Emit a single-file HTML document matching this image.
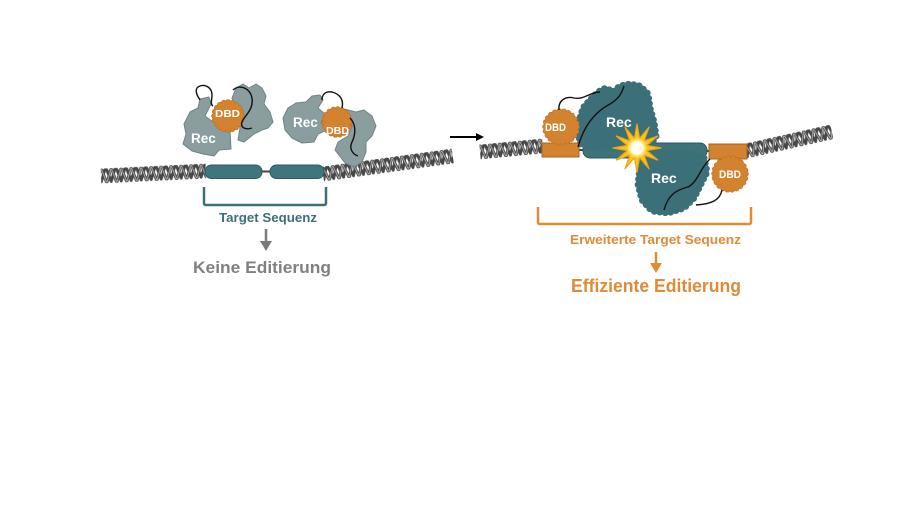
<!DOCTYPE html>
<html><head><meta charset="utf-8">
<style>
html,body{margin:0;padding:0;background:#fff;}
svg{display:block;}
text{font-family:"Liberation Sans",sans-serif;font-weight:bold;}
</style></head><body>
<svg width="900" height="506" viewBox="0 0 900 506" xmlns="http://www.w3.org/2000/svg">
<defs>
 <pattern id="hx" patternUnits="userSpaceOnUse" x="0" y="-8" width="10" height="16">
  <path d="M-2,14 L0,14 L4,2 L6,2 L10,14 L12,14" fill="none" stroke="#474747" stroke-width="2.8" stroke-linejoin="round"/>
  <path d="M-2,2 L1,2 L5,14 L6,14 L10,2 L12,2" fill="none" stroke="#474747" stroke-width="2.8" stroke-linejoin="round"/>
  <path d="M-2,2 L1,2 L5,14 L6,14 L10,2 L12,2" fill="none" stroke="#b5b5b5" stroke-width="0.9" stroke-linejoin="round"/>
 </pattern>
 <radialGradient id="glow" cx="0.5" cy="0.5" r="0.5">
  <stop offset="0" stop-color="#ffffff"/>
  <stop offset="0.55" stop-color="#fffbe0"/>
  <stop offset="1" stop-color="#ffe05a" stop-opacity="0"/>
 </radialGradient>
</defs>

<!-- ============ LEFT PANEL ============ -->
<g transform="translate(101,176) rotate(-2.7)"><rect x="0" y="-8" width="105" height="16" fill="url(#hx)"/></g>
<g transform="translate(323,174) rotate(-7.9)"><rect x="0" y="-8" width="131" height="16" fill="url(#hx)"/></g>
<line x1="260" y1="171.5" x2="272" y2="171.5" stroke="#444" stroke-width="2"/>
<rect x="205" y="165" width="57" height="13.5" rx="6.5" fill="#3f767c" stroke="#2e5a60" stroke-width="1"/>
<rect x="270" y="165" width="54" height="13.5" rx="6.5" fill="#3f767c" stroke="#2e5a60" stroke-width="1"/>

<!-- complex 1 -->
<polygon points="232,98 236,88 243,84 249,88 256,84 262,88 266,96 264,104 270,112 273,122 268,128 262,130 254,134 244,142 238,140 240,128 237,118" fill="#8a9e9f" stroke="#6f8485" stroke-width="1" stroke-linejoin="round"/>
<polygon points="184,124 190,112 198,108 200,99 209,97 211,104 205,116 213,122 219,120 222,128 230,130 231,149 219,150 214,156 203,154 192,151 183,144 186,134" fill="#8a9e9f" stroke="#6f8485" stroke-width="1" stroke-linejoin="round"/>
<circle cx="228" cy="116" r="14" fill="#d3822f" stroke="#bf7226" stroke-width="5.5" stroke-dasharray="0 4.4" stroke-linecap="round"/>
<circle cx="228" cy="116" r="14" fill="#d3822f" stroke="#d3822f" stroke-width="4" stroke-dasharray="0 4.4" stroke-linecap="round"/>
<path d="M200,100 C196,94 194,88 200,86 C206,84 212,88 212,95 C212,100 210,104 213,106" fill="none" stroke="#111" stroke-width="1.4"/>
<path d="M233,90 C240,84 250,88 252,98 C254,110 244,116 242,122 C240,128 246,130 252,128" fill="none" stroke="#111" stroke-width="1.4"/>
<text x="191" y="143" font-size="13.5" fill="#fff">Rec</text>
<text x="215" y="117" font-size="10.5" fill="#fff" textLength="25" lengthAdjust="spacingAndGlyphs">DBD</text>

<!-- complex 2 -->
<polygon points="340,108 348,110 356,112 364,110 372,116 376,126 372,136 366,142 366,152 362,162 354,167 345,163 335,150 338,142 348,136 352,126 348,118" fill="#8a9e9f" stroke="#6f8485" stroke-width="1" stroke-linejoin="round"/>
<polygon points="283,118 288,108 296,103 306,102 312,96 320,95 323,100 318,108 325,114 321,123 327,130 318,134 314,142 302,143 292,138 285,130" fill="#8a9e9f" stroke="#6f8485" stroke-width="1" stroke-linejoin="round"/>
<circle cx="337" cy="122" r="13" fill="#d3822f" stroke="#bf7226" stroke-width="5.5" stroke-dasharray="0 4.4" stroke-linecap="round"/>
<circle cx="337" cy="122" r="13" fill="#d3822f" stroke="#d3822f" stroke-width="4" stroke-dasharray="0 4.4" stroke-linecap="round"/>
<path d="M322,100 C322,94 326,91 332,92 C340,94 344,100 342,108" fill="none" stroke="#111" stroke-width="1.4"/>
<path d="M350,118 C356,124 356,134 352,142 C349,148 352,154 358,156" fill="none" stroke="#111" stroke-width="1.4"/>
<text x="293" y="127" font-size="13.5" fill="#fff">Rec</text>
<text x="326" y="134" font-size="10" fill="#fff" textLength="23" lengthAdjust="spacingAndGlyphs">DBD</text>

<path d="M204,187 V203 Q204,205 206,205 H324 Q326,205 326,203 V187" fill="none" stroke="#3d7075" stroke-width="2.5"/>
<text x="219" y="222" font-size="13" fill="#3d7075" textLength="98" lengthAdjust="spacingAndGlyphs">Target Sequenz</text>
<line x1="266" y1="229" x2="266" y2="243" stroke="#7a7a7a" stroke-width="2.5"/>
<polygon points="260,241 272,241 266,251" fill="#7a7a7a"/>
<text x="193" y="273" font-size="17" fill="#808080" textLength="138" lengthAdjust="spacingAndGlyphs">Keine Editierung</text>

<line x1="450" y1="137" x2="477" y2="137" stroke="#000" stroke-width="2"/>
<polygon points="476,133 484,137 476,141" fill="#000"/>

<!-- ============ RIGHT PANEL ============ -->
<g transform="translate(480,152) rotate(-5.5)"><rect x="0" y="-8" width="63" height="16" fill="url(#hx)"/></g>
<g transform="translate(746,151) rotate(-12.6)"><rect x="0" y="-8" width="88" height="16" fill="url(#hx)"/></g>

<line x1="578" y1="150" x2="586" y2="150" stroke="#444" stroke-width="2"/>
<line x1="704" y1="151" x2="711" y2="151" stroke="#444" stroke-width="2"/>
<rect x="583" y="143" width="124" height="15" rx="7" fill="#3d7379" stroke="#2d5a60" stroke-width="1"/>

<polygon points="580,144 578,125 583,108 590,100 598,92 606,88 613,92 620,86 630,84 640,86 648,94 650,108 654,122 656,136 650,146 620,148 595,148" fill="#3c7078" stroke="#3c7078" stroke-width="7" stroke-dasharray="0 5.5" stroke-linecap="round" stroke-linejoin="round"/>
<polygon points="640,156 650,151 670,153 692,154 704,158 707,172 700,186 694,198 684,208 668,213 652,211 642,200 638,184 640,168" fill="#3c7078" stroke="#3c7078" stroke-width="7" stroke-dasharray="0 5.5" stroke-linecap="round" stroke-linejoin="round"/>

<rect x="542" y="143" width="37" height="14" fill="#d3822f" stroke="#a9651f" stroke-width="1"/>
<rect x="709" y="144" width="38" height="15" fill="#d3822f" stroke="#a9651f" stroke-width="1"/>

<circle cx="561" cy="127" r="16" fill="#d3822f" stroke="#bf7226" stroke-width="5.5" stroke-dasharray="0 4.6" stroke-linecap="round"/>
<circle cx="561" cy="127" r="16" fill="#d3822f" stroke="#d3822f" stroke-width="4" stroke-dasharray="0 4.6" stroke-linecap="round"/>
<circle cx="730" cy="174" r="16" fill="#d3822f" stroke="#bf7226" stroke-width="5.5" stroke-dasharray="0 4.6" stroke-linecap="round"/>
<circle cx="730" cy="174" r="16" fill="#d3822f" stroke="#d3822f" stroke-width="4" stroke-dasharray="0 4.6" stroke-linecap="round"/>

<path d="M559,110 C558,100 566,96 574,98 C584,100 590,92 600,92" fill="none" stroke="#111" stroke-width="1.4"/>
<path d="M578,147 C584,125 595,112 610,104 C620,98 622,92 624,86" fill="none" stroke="#111" stroke-width="1.4"/>
<path d="M710,159 C700,168 698,182 688,187 C676,190 668,195 664,210" fill="none" stroke="#111" stroke-width="1.4"/>
<path d="M722,190 C720,200 712,204 696,205" fill="none" stroke="#111" stroke-width="1.4"/>

<text x="606" y="127" font-size="14" fill="#fff">Rec</text>
<text x="651" y="183" font-size="14" fill="#fff">Rec</text>
<text x="545" y="131" font-size="11" fill="#fff" textLength="21" lengthAdjust="spacingAndGlyphs">DBD</text>
<text x="719" y="178" font-size="11" fill="#fff" textLength="22" lengthAdjust="spacingAndGlyphs">DBD</text>

<polygon points="661,148 646.7,145.4 657.8,136 644.1,140.9 649,127.2 639.6,138.3 637,124 634.4,138.3 625,127.2 629.9,140.9 616.2,136 627.3,145.4 613,148 627.3,150.6 616.2,160 629.9,155.1 625,168.8 634.4,157.7 637,172 639.6,157.7 649,168.8 644.1,155.1 657.8,160 646.7,150.6" fill="#f8c51c" stroke="#eea512" stroke-width="1.2" stroke-linejoin="round"/>
<circle cx="637" cy="148" r="11" fill="url(#glow)"/>

<path d="M538,207 V222 Q538,224 540,224 H749 Q751,224 751,222 V207" fill="none" stroke="#e08b35" stroke-width="2.5"/>
<text x="570" y="244" font-size="13" fill="#e08b35" textLength="171" lengthAdjust="spacingAndGlyphs">Erweiterte Target Sequenz</text>
<line x1="656" y1="252" x2="656" y2="264" stroke="#e08b35" stroke-width="2.5"/>
<polygon points="650,263 662,263 656,273" fill="#e08b35"/>
<text x="571" y="292" font-size="18" fill="#e08b35" textLength="170" lengthAdjust="spacingAndGlyphs">Effiziente Editierung</text>
</svg>
</body></html>
